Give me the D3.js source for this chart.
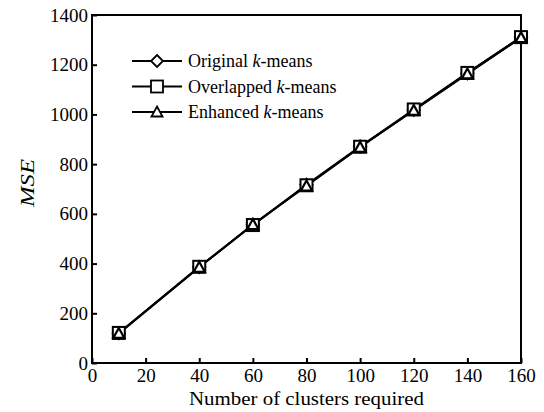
<!DOCTYPE html>
<html>
<head>
<meta charset="utf-8">
<script src="https://cdn.jsdelivr.net/npm/d3@7"></script>
<style>
  body { margin: 0; background: #fff; }
  svg { display: block; }
  svg text { font-family: "Liberation Serif", "Times New Roman", serif; }
</style>
</head>
<body>
<svg id="chart" width="544" height="412"></svg>
<script>
const clusters = [10, 40, 60, 80, 100, 120, 140, 160]
const original = [120, 386, 556, 717, 871, 1018, 1165, 1310]
const overlapped = [121, 387, 555, 715, 870, 1020, 1167, 1311]
const enhanced = [119, 385, 557, 712, 868, 1016, 1163, 1309]
const xTicks = [0, 20, 40, 60, 80, 100, 120, 140, 160]
const yTicks = [0, 200, 400, 600, 800, 1000, 1200, 1400]

const margin = { top: 15, right: 23, bottom: 49, left: 92 }
const width = 544, height = 412
const serif = '"Liberation Serif", "Times New Roman", serif'
const svg = d3.select('#chart')

const x = d3.scaleLinear().domain([0, 160]).range([margin.left, width - margin.right])
const y = d3.scaleLinear().domain([0, 1400]).range([height - margin.bottom, margin.top])

const series = [
    { name: 'Original', values: original, marker: 'diamond' },
    { name: 'Overlapped', values: overlapped, marker: 'square' },
    { name: 'Enhanced', values: enhanced, marker: 'triangle' }
]

function styleAxis(g) {
    g.attr('font-family', serif).attr('font-size', 19)
    g.select('.domain').remove()
    g.selectAll('text').attr('font-family', serif).attr('font-size', 19).attr('fill', '#000')
    g.selectAll('line').attr('stroke', '#000').attr('stroke-width', 2)
}

// axes with inward ticks
svg.append('g')
    .attr('transform', `translate(0,${y(0)})`)
    .call(d3.axisBottom(x).tickValues(xTicks).tickFormat(d3.format('d'))
        .tickSizeInner(-5).tickSizeOuter(0).tickPadding(6))
    .call(styleAxis)

svg.append('g')
    .attr('transform', `translate(${x(0)},0)`)
    .call(d3.axisLeft(y).tickValues(yTicks).tickFormat(d3.format('d'))
        .tickSizeInner(-5).tickSizeOuter(0).tickPadding(4))
    .call(styleAxis)

// frame
svg.append('rect')
    .attr('x', x(0)).attr('y', y(1400))
    .attr('width', x(160) - x(0)).attr('height', y(0) - y(1400))
    .attr('fill', 'none').attr('stroke', '#000').attr('stroke-width', 2)

const line = d3.line().x((d, i) => x(clusters[i])).y(d => y(d))

series.forEach(s => {
    svg.append('path')
        .datum(s.values)
        .attr('d', line)
        .attr('fill', 'none')
        .attr('stroke', '#000')
        .attr('stroke-width', 2)
})

function drawMarker(g, type, cx, cy, fill, sw) {
    if (type === 'square') {
        g.append('rect').attr('x', cx - 6).attr('y', cy - 6).attr('width', 12).attr('height', 12)
            .attr('fill', fill).attr('stroke', '#000').attr('stroke-width', sw)
    } else if (type === 'diamond') {
        g.append('path').attr('d', `M${cx},${cy - 6}L${cx + 6},${cy}L${cx},${cy + 6}L${cx - 6},${cy}Z`)
            .attr('fill', fill).attr('stroke', '#000').attr('stroke-width', sw)
    } else {
        g.append('path').attr('d', `M${cx},${cy - 5.5}L${cx + 5.5},${cy + 4.5}L${cx - 5.5},${cy + 4.5}Z`)
            .attr('fill', fill).attr('stroke', '#000').attr('stroke-width', sw)
    }
}

const markers = svg.append('g')
series.forEach(s => {
    s.values.forEach((v, i) => drawMarker(markers, s.marker, x(clusters[i]), y(v),
        s.marker === 'triangle' ? 'none' : '#fff', s.marker === 'triangle' ? 2.2 : 2))
})

// legend
const legend = svg.append('g')
series.forEach((s, i) => {
    const ly = 61 + i * 25.5
    legend.append('line').attr('x1', 132).attr('x2', 182).attr('y1', ly).attr('y2', ly)
        .attr('stroke', '#000').attr('stroke-width', 1.8)
    drawMarker(legend, s.marker, 157, ly, '#fff', 1.8)
    const t = legend.append('text').attr('x', 188).attr('y', ly).attr('dy', '0.35em')
        .attr('font-size', 18).attr('fill', '#000')
    t.append('tspan').text(s.name + ' ')
    t.append('tspan').attr('font-style', 'italic').text('k')
    t.append('tspan').text('-means')
})

// axis titles
svg.append('text')
    .attr('x', (x(0) + x(160)) / 2).attr('y', 405)
    .attr('text-anchor', 'middle').attr('font-size', 19)
    .attr('textLength', 235).attr('lengthAdjust', 'spacingAndGlyphs')
    .text('Number of clusters required')

svg.append('text')
    .attr('transform', 'translate(34,183) rotate(-90)')
    .attr('text-anchor', 'middle').attr('font-size', 19).attr('font-style', 'italic')
    .attr('textLength', 48).attr('lengthAdjust', 'spacingAndGlyphs')
    .text('MSE')
</script>
</body>
</html>
